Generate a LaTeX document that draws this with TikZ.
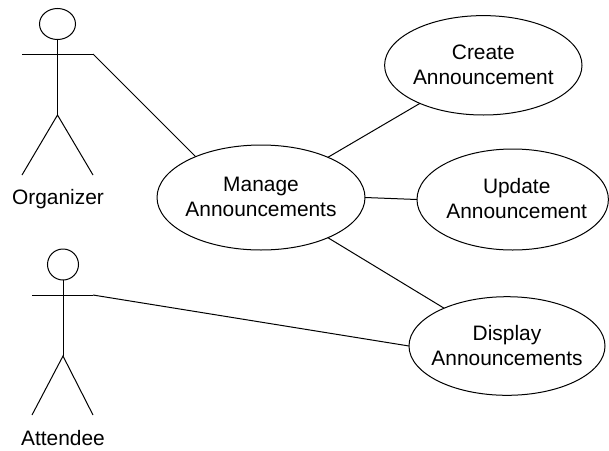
\documentclass[tikz,border=0pt]{standalone}
\usepackage{fontspec}
\setmainfont{Liberation Sans}
\usetikzlibrary{shapes.geometric}
\newcommand\ucbox[3][0pt]{\makebox[0pt]{\hspace{#1}\raisebox{-6.9pt}[0pt][0pt]{\begin{tabular}{@{}c@{}}#2\\#3\end{tabular}}}}
\tikzset{
  x=1pt,y=-1pt,
  line/.style={draw=black,line width=1pt},
  usecase/.style={ellipse,line,inner sep=0pt,outer sep=0pt,font=\fontsize{20.9}{25}\selectfont},
  head/.style={ellipse,line,inner sep=0pt,outer sep=0pt},
  label/.style={inner sep=0pt,font=\fontsize{20.9}{25}\selectfont,anchor=base},
}
\begin{document}
\begin{tikzpicture}
\useasboundingbox (0,0) rectangle (609,450);
\path[clip] (0,0) rectangle (609,450);
% use cases
\node[usecase,minimum width=208pt,minimum height=105pt] (manage) at (261,197.5) {\ucbox{Manage}{Announcements}};
\node[usecase,minimum width=197.4pt,minimum height=99.4pt] (create) at (483.3,65.3) {\ucbox{Create}{Announcement}};
\node[usecase,minimum width=191.4pt,minimum height=101pt] (update) at (512.7,199.5) {\ucbox[8pt]{Update}{Announcement}};
\node[usecase,minimum width=196pt,minimum height=98.6pt] (display) at (507,346) {\ucbox{Display}{Announcements}};
% organizer
\node[head,minimum width=36pt,minimum height=31pt] (ohead) at (57.5,24) {};
\coordinate (ohip) at (57.5,115);
\coordinate (oarmL) at (22,54);
\coordinate (oarmR) at (93,54);
\coordinate (olegL) at (22,175);
\coordinate (olegR) at (93,175);
\draw[line] (ohead.south) -- (ohip);
\draw[line] (oarmL) -- (oarmR);
\draw[line] (olegL) -- (ohip) -- (olegR);
\node[label] (olabel) at (58,204.5) {Organizer};
% attendee
\node[head,minimum width=31pt,minimum height=31pt] (ahead) at (63,264.5) {};
\coordinate (ahip) at (63,356);
\coordinate (aarmL) at (32,295);
\coordinate (aarmR) at (93,295);
\coordinate (alegL) at (32,415);
\coordinate (alegR) at (93,415);
\draw[line] (ahead.south) -- (ahip);
\draw[line] (aarmL) -- (aarmR);
\draw[line] (alegL) -- (ahip) -- (alegR);
\node[label] (alabel) at (63,445.5) {Attendee};
% connectors
\draw[line] (oarmR) -- (manage.148.5);
\draw[line] (aarmR) -- (display.180);
\draw[line] (manage.31.5) -- (create.211);
\draw[line] (manage.0) -- (update.180);
\draw[line] (manage.329) -- (display.149);
\end{tikzpicture}
\end{document}
